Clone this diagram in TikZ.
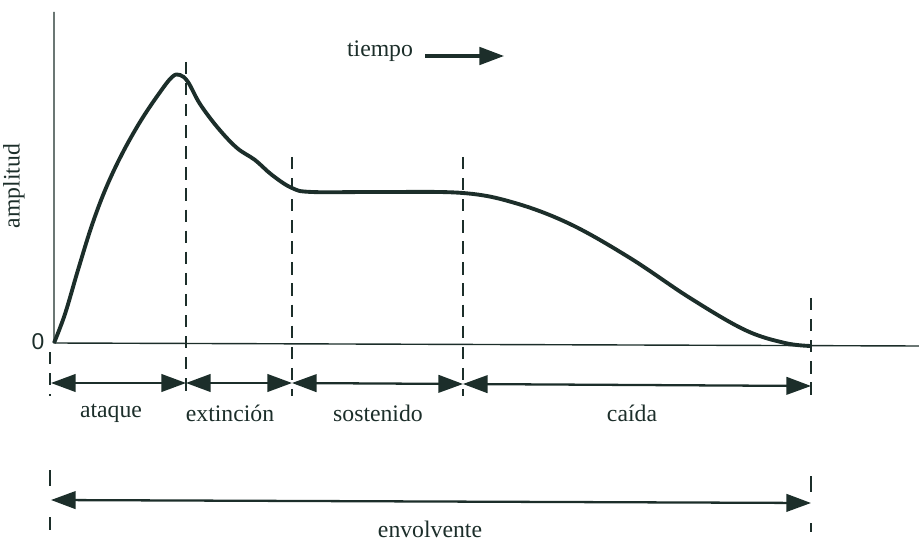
\documentclass[tikz,border=0pt]{standalone}
\usepackage{fontspec}
\setmainfont{Liberation Serif}
\newfontfamily\serifont{Liberation Serif}
\newfontfamily\zerofont{Liberation Sans}
\usetikzlibrary{arrows.meta}
\definecolor{ink}{RGB}{28,46,42}
\begin{document}
\begin{tikzpicture}[x=0.02cm,y=-0.02cm,
  axis/.style={ink,line width=0.8pt},
  guide/.style={ink,line width=0.8pt,dash pattern=on 7pt off 5pt},
  span/.style={ink,line width=1.3pt,{Triangle[length=14pt,width=10pt]}-{Triangle[length=14pt,width=10pt]}},
  lbl/.style={font=\serifont\fontsize{13.5}{15}\selectfont,text=ink,inner sep=0pt}]
\useasboundingbox (0,0) rectangle (919,540);
% axes
\coordinate (o) at (54,343);
\coordinate (ytop) at (54,12);
\coordinate (xend) at (919,346);
\draw[axis] (ytop) -- (o) -- (xend);
\node[font=\zerofont\fontsize{13}{15}\selectfont,text=ink,inner sep=0pt] (zero) at (38,342) {0};
\node[lbl,rotate=90] (amp) at (14,186) {amplitud};
% curve
\draw[ink,line width=2.2pt,line join=round] plot[smooth,tension=0.6] coordinates {
 (54,343) (65,314) (78,270) (92,225) (106,188) (122,154) (140,122) (158,95) (172,77) (180,75) (188,82) (200,104)
 (218,128) (237,148) (255,160) (272,175) (292,188) (312,192) (380,192) (463,193)
 (515,203) (570,224) (630,258) (690,298) (745,330) (785,343) (811,346)};
% guides
\coordinate (g1t) at (186,62);  \coordinate (g1b) at (186,396);
\coordinate (g2t) at (292,157); \coordinate (g2b) at (292,396);
\coordinate (g3t) at (463,157); \coordinate (g3b) at (463,396);
\coordinate (g4t) at (811,298); \coordinate (g4b) at (811,398);
\coordinate (g0t) at (50,352);  \coordinate (g0b) at (50,396);
\draw[guide] (g1t) -- (g1b);
\draw[guide] (g2t) -- (g2b);
\draw[guide] (g3t) -- (g3b);
\draw[guide] (g4t) -- (g4b);
\draw[guide] (g0t) -- (g0b);
% segment arrows
\coordinate (s0) at (51,383);
\coordinate (s1) at (186,383);
\coordinate (s2) at (292,383);
\coordinate (s3) at (463,384);
\coordinate (s4) at (811,386);
\draw[span] (s0) -- (s1);
\draw[span] (s1) -- (s2);
\draw[span] (s2) -- (s3);
\draw[span] (s3) -- (s4);
\node[lbl] (ataque) at (111,413) {ataque};
\node[lbl] (extincion) at (230,413) {extinción};
\node[lbl] (sostenido) at (378,413) {sostenido};
\node[lbl] (caida) at (632,413) {caída};
% envolvente
\coordinate (e0t) at (50,470); \coordinate (e0b) at (50,530);
\coordinate (e1t) at (811,476); \coordinate (e1b) at (811,532);
\draw[guide,dash pattern=on 9pt off 18pt] (e0t) -- (e0b);
\draw[guide,dash pattern=on 9pt off 18pt] (e1t) -- (e1b);
\coordinate (ea) at (51,500);
\coordinate (eb) at (811,503);
\draw[span] (ea) -- (eb);
\node[lbl] (env) at (430,529) {envolvente};
% tiempo
\node[lbl] (tiempo) at (380,51) {tiempo};
\coordinate (ta) at (425,56);
\coordinate (tb) at (504,56);
\draw[ink,line width=1.8pt,-{Triangle[length=14pt,width=10pt]}] (ta) -- (tb);
\end{tikzpicture}
\end{document}
